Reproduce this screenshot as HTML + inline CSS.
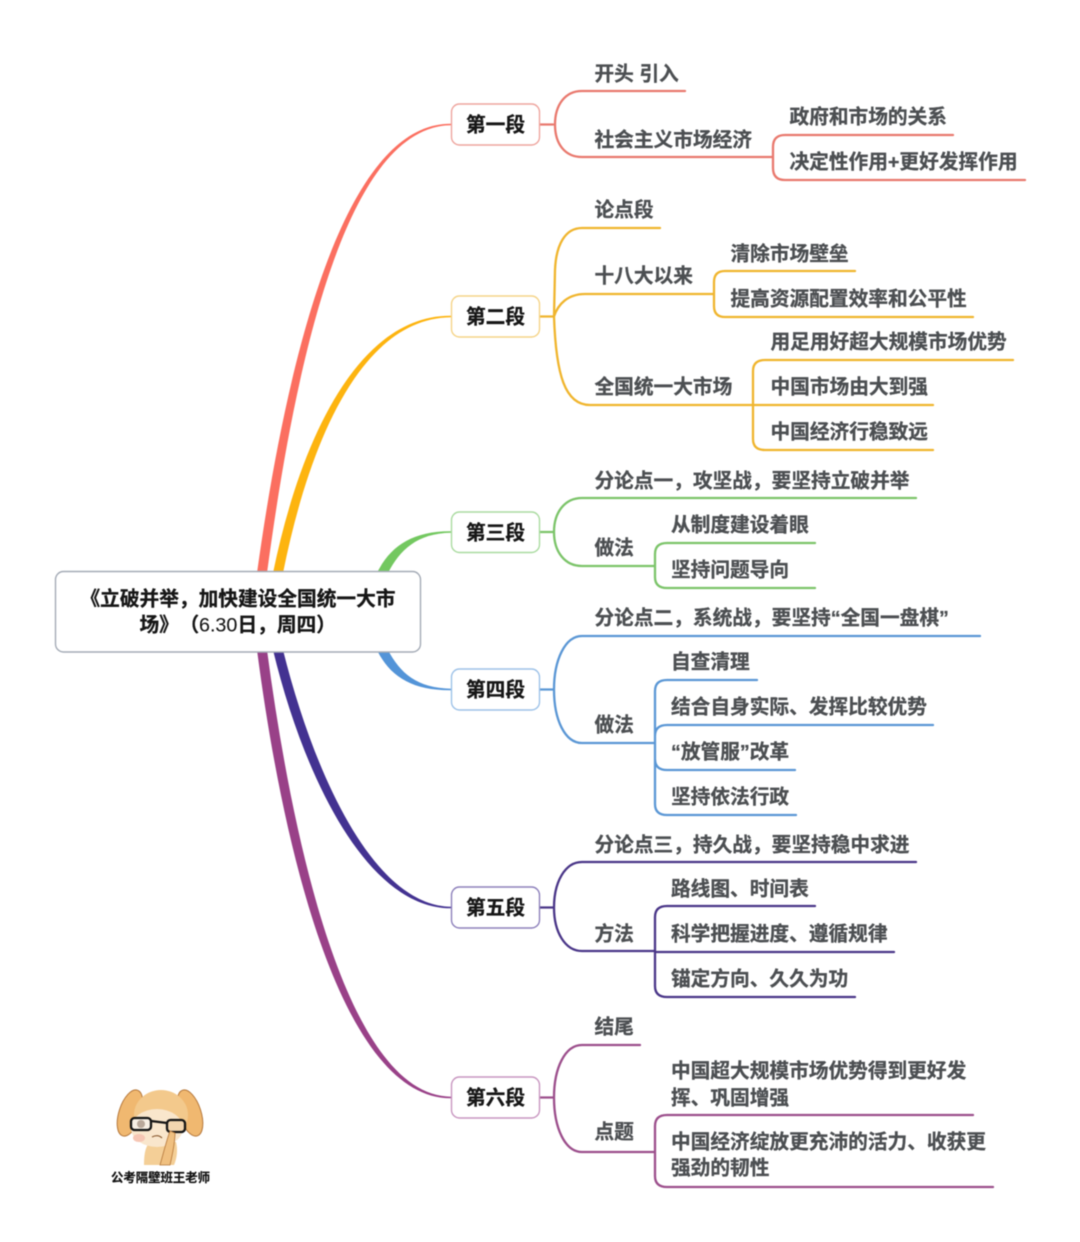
<!DOCTYPE html>
<html lang="zh"><head><meta charset="utf-8"><title>立破并举思维导图</title>
<style>
html,body{margin:0;padding:0;background:#fff}
svg{display:block;filter:blur(.4px)}
text{font-family:"Liberation Sans","Noto Sans CJK SC",sans-serif;font-size:19.7px;font-weight:700;fill:#4c4f52;stroke:#4c4f52;stroke-width:.3px;text-spacing-trim:space-all}
.b text,text.b{fill:#161616;stroke:#161616}
.b text{text-anchor:middle}
.l{fill:none;stroke-width:2.3;stroke-linecap:round}
</style></head><body>
<svg width="1080" height="1242" viewBox="0 0 1080 1242" xmlns="http://www.w3.org/2000/svg">
<!-- main branches -->
<path fill="#fb6f60" d="M257,573 C286.500,360 343.500,122.800 451,123.700 L451,125.300 C346.500,126.300 295.500,360.500 267,573Z"/>
<path fill="#fdb40f" d="M273,573 C300.500,439 358.500,314.800 451,315.700 L451,317.300 C361.500,318.300 309.500,441 283,573Z"/>
<path fill="#73c860" d="M377,573 C390,546 413,530.800 451,531.200 L451,532.800 C417,533.400 400,550 388,573Z"/>
<path fill="#5394d8" d="M377,650 C390,677 413,690.700 451,690.300 L451,688.700 C417,688.100 400,673 388,650Z"/>
<path fill="#433291" d="M273,650 C305,782 369,908.800 451,908.300 L451,906.700 C375,906 315,778 283,650Z"/>
<path fill="#994188" d="M257,650 C286,872 347,1098.800 451,1098.300 L451,1096.700 C353,1096 296,868 267,650Z"/>
<!-- branch 1 -->
<g style="stroke:#e9796e">
<path class="l" d="M539,124.500H553 M685,91H582 C565,91 555,105 555,124.500 C555,144 565,157 582,157 H773 M953,135H785 Q773,135 773,147 V168 Q773,180 785,180 H1025"/>
</g>
<!-- branch 2 -->
<g style="stroke:#f0b52e">
<path class="l" d="M539,316.500H554 M660,228H582 C565,228 556,245 555,270 L554,316.500 C556,375 565,405 590,405 H752 M554,316.500 C558,304 568,294 585,294 H713 M855,271H725 Q714,271 714,282 V306 Q714,317 725,317 H973 M1013,360H765 Q753,360 753,371 V439 Q753,450 765,450 H933 M753,405H933"/>
</g>
<!-- branch 3 -->
<g style="stroke:#7cc46a">
<path class="l" d="M539,532H554 M916,498H582 C565,498 554,512 554,532 C554,552 565,566 582,566 H654 M815,543H667 Q655,543 655,554 V577 Q655,588 667,588 H815"/>
</g>
<!-- branch 4 -->
<g style="stroke:#5b97d5">
<path class="l" d="M539,689.500H554 M980,636H582 C565,636 554,660 554,689.500 C554,720 565,743 582,743 H654 M757,680H667 Q655,680 655,691 V804 Q655,815 667,815 H796 M933,725H667 Q655,725 655,736 M795,770H667 Q655,770 655,759"/>
</g>
<!-- branch 5 -->
<g style="stroke:#4a3688">
<path class="l" d="M539,907.500H554 M916,862H582 C565,862 554,882 554,907.500 C554,932 565,951 582,951 H654 M815,906H667 Q655,906 655,917 V986 Q655,997 667,997 H855 M894,952H655"/>
</g>
<!-- branch 6 -->
<g style="stroke:#9c4f8c">
<path class="l" d="M539,1097.500H554 M640,1045H582 C565,1045 554,1068 554,1097.500 C554,1128 565,1152 582,1152 H654 M973,1115H667 Q655,1115 655,1126 V1176 Q655,1187 667,1187 H993"/>
</g>
<!-- root -->
<rect x="55.500" y="571.500" width="365" height="80.500" rx="8" fill="#fff" stroke="#a4abb6" stroke-width="1.400"/>
<g class="b" transform="translate(0,.5)">
<text x="238" y="605">《立破并举，加快建设全国统一大市</text>
</g>
<text class="b" y="631.500"><tspan x="139.500">场》</tspan><tspan x="179.500">（</tspan><tspan x="199" style="font-weight:400;stroke-width:.1px">6.30</tspan><tspan x="237.500">日，周四）</tspan></text>
<!-- section boxes -->
<g fill="#fff" stroke-width="1.400">
<rect x="451.500" y="104" width="88" height="41" rx="8" stroke="#eea59e"/>
<rect x="451.500" y="296" width="88" height="41" rx="8" stroke="#f5d488"/>
<rect x="451.500" y="512" width="88" height="40.500" rx="8" stroke="#aadba0"/>
<rect x="451.500" y="669" width="88" height="41" rx="8" stroke="#9dc2e8"/>
<rect x="451.500" y="887" width="88" height="41" rx="8" stroke="#8d80bb"/>
<rect x="451.500" y="1077" width="88" height="41" rx="8" stroke="#c896c0"/>
</g>
<g class="b">
<text x="495.500" y="131.500">第一段</text>
<text x="495.500" y="323.500">第二段</text>
<text x="495.500" y="539.500">第三段</text>
<text x="495.500" y="696.500">第四段</text>
<text x="495.500" y="914.500">第五段</text>
<text x="495.500" y="1104.500">第六段</text>
</g>
<!-- labels -->
<g transform="translate(-.5,.6)">
<text x="595" y="80">开头 引入</text>
<text x="595" y="146">社会主义市场经济</text>
<text x="790" y="123">政府和市场的关系</text>
<text x="790" y="168">决定性作用+更好发挥作用</text>
<text x="595" y="216">论点段</text>
<text x="595" y="282">十八大以来</text>
<text x="731" y="260">清除市场壁垒</text>
<text x="731" y="305">提高资源配置效率和公平性</text>
<text x="771" y="348">用足用好超大规模市场优势</text>
<text x="771" y="393">中国市场由大到强</text>
<text x="771" y="438">中国经济行稳致远</text>
<text x="595" y="393">全国统一大市场</text>
<text x="595" y="487">分论点一，攻坚战，要坚持立破并举</text>
<text x="671.500" y="531">从制度建设着眼</text>
<text x="671.500" y="576">坚持问题导向</text>
<text x="595" y="554">做法</text>
<text x="595" y="624">分论点二，系统战，要坚持“全国一盘棋”</text>
<text x="671.500" y="668">自查清理</text>
<text x="671.500" y="713">结合自身实际、发挥比较优势</text>
<text x="671.500" y="758">“放管服”改革</text>
<text x="671.500" y="803">坚持依法行政</text>
<text x="595" y="731">做法</text>
<text x="595" y="851">分论点三，持久战，要坚持稳中求进</text>
<text x="671.500" y="895">路线图、时间表</text>
<text x="671.500" y="940">科学把握进度、遵循规律</text>
<text x="671.500" y="985">锚定方向、久久为功</text>
<text x="595" y="940">方法</text>
<text x="595" y="1033">结尾</text>
<text x="671.500" y="1077">中国超大规模市场优势得到更好发</text>
<text x="671.500" y="1104">挥、巩固增强</text>
<text x="671.500" y="1148">中国经济绽放更充沛的活力、收获更</text>
<text x="671.500" y="1174">强劲的韧性</text>
<text x="595" y="1138">点题</text>
</g>
<!-- mascot -->
<g>
<path d="M144,1165 C144,1152 146,1146 150,1142 L176,1142 C178,1150 177,1158 174,1165Z" fill="#f4cf97"/>
<ellipse cx="130" cy="1113" rx="11" ry="24" transform="rotate(18 130 1113)" fill="#f0b870" stroke="#b5773a" stroke-width="1"/>
<ellipse cx="190" cy="1113" rx="11" ry="24" transform="rotate(-18 190 1113)" fill="#f0b870" stroke="#b5773a" stroke-width="1"/>
<ellipse cx="161" cy="1115" rx="27" ry="25" fill="#f3c98c"/>
<ellipse cx="157" cy="1128" rx="26" ry="19" fill="#f9e6cc"/>
<ellipse cx="139" cy="1138" rx="6" ry="4" fill="#f6c6b4"/>
<rect x="131" y="1118" width="20" height="12" rx="3.500" fill="#f7efe4" stroke="#151515" stroke-width="2.300"/>
<rect x="167" y="1120" width="18" height="12" rx="3.500" fill="#f3d6b0" stroke="#151515" stroke-width="2.300"/>
<path d="M151,1121 L167,1123" stroke="#151515" stroke-width="2.300"/>
<circle cx="141" cy="1124" r="4" fill="#b9a89a"/>
<path d="M152,1137 q6,-3 10,1" stroke="#8a5a30" stroke-width="1.100" fill="none"/>
<path d="M170,1131 C166,1142 163,1155 160,1165 L170,1165 C173,1152 175,1142 175,1133Z" fill="#f0c080" stroke="#b5773a" stroke-width=".8"/>
</g>
<text x="160.500" y="1182" text-anchor="middle" style="font-size:12.400px;fill:#111;stroke:#111;stroke-width:.2px">公考隔壁班王老师</text>
</svg>
</body></html>
